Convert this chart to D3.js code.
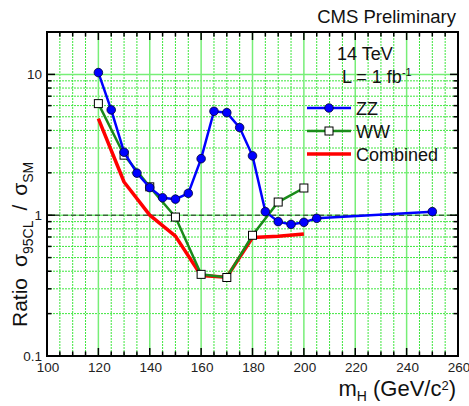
<!DOCTYPE html>
<html>
<head>
<meta charset="utf-8">
<script src="https://cdn.jsdelivr.net/npm/d3@7"></script>
<style>
  body { margin: 0; background: #fff; }
  svg { display: block; font-family: "Liberation Sans", Arial, sans-serif; }
</style>
</head>
<body>
<div id="chart"></div>
<script>
// masses and limits
const massZZ = [120, 125, 130, 135, 140, 145, 150, 155, 160, 165, 170, 175, 180, 185, 190, 195, 200, 205, 250];
const ratioZZ = [10.3, 5.6, 2.8, 1.99, 1.57, 1.33, 1.30, 1.43, 2.52, 5.47, 5.35, 4.19, 2.64, 1.06, 0.90, 0.86, 0.89, 0.95, 1.06];

const massWW = [120, 130, 140, 150, 160, 170, 180, 190, 200];
const ratioWW = [6.2, 2.67, 1.59, 0.97, 0.38, 0.361, 0.72, 1.24, 1.56];

const massComb = [120, 130, 140, 150, 160, 170, 180, 190, 200];
const ratioComb = [4.85, 1.72, 1.0, 0.71, 0.373, 0.363, 0.695, 0.71, 0.736];

const xTicks = [100, 120, 140, 160, 180, 200, 220, 240, 260];
const yTicks = [0.1, 1, 10];
const yTickLabels = ["0.1", "1", "10"];

const W = 469, H = 406;
const margin = {left: 47, right: 11, top: 32, bottom: 50};

const svg = d3.select("#chart").append("svg")
  .attr("width", W)
  .attr("height", H);

const x = d3.scaleLinear()
  .domain([100, 260])
  .range([margin.left, W - margin.right]);

const y = d3.scaleLog()
  .domain([0.1, 20])
  .range([H - margin.bottom, margin.top]);

const x0 = x.range()[0], x1 = x.range()[1];
const y0 = y.range()[0], y1 = y.range()[1];

// minor / major values
const xMinor = d3.range(100, 261, 5);
const yMinor = [];
[0.1, 1, 10].forEach(function(d) {
  for (let k = 2; k <= 9; k++) if (d * k <= 20) yMinor.push(d * k);
});

// grid
const grid = svg.append("g");
grid.selectAll(".vminor")
  .data(xMinor.filter(function(d) { return d % 20 !== 0; }))
  .enter().append("line")
    .attr("x1", x).attr("x2", x)
    .attr("y1", y1).attr("y2", y0)
    .attr("stroke", "#3ee63e")
    .attr("stroke-width", 1)
    .attr("stroke-dasharray", "2,1");
grid.selectAll(".hminor")
  .data(yMinor.filter(function(d) { return d < 20; }))
  .enter().append("line")
    .attr("x1", x0).attr("x2", x1)
    .attr("y1", y).attr("y2", y)
    .attr("stroke", "#3ee63e")
    .attr("stroke-width", 1)
    .attr("stroke-dasharray", "2,1");
grid.selectAll(".vmajor")
  .data(xTicks.slice(1, -1))
  .enter().append("line")
    .attr("x1", x).attr("x2", x)
    .attr("y1", y1).attr("y2", y0)
    .attr("stroke", "#77ee77")
    .attr("stroke-width", 1.5);
grid.selectAll(".hmajor")
  .data([1, 10])
  .enter().append("line")
    .attr("x1", x0).attr("x2", x1)
    .attr("y1", y).attr("y2", y)
    .attr("stroke", "#77ee77")
    .attr("stroke-width", 1.5);

// dashed line at ratio 1
svg.append("line")
  .attr("x1", x0).attr("x2", x1)
  .attr("y1", y(1)).attr("y2", y(1))
  .attr("stroke", "#222")
  .attr("stroke-width", 1)
  .attr("stroke-dasharray", "5,3");

// ticks
const ticks = svg.append("g").attr("stroke", "#000").attr("stroke-width", 1.5);
xMinor.forEach(function(d) {
  const len = d % 20 === 0 ? 8 : 4.5;
  ticks.append("line").attr("x1", x(d)).attr("x2", x(d)).attr("y1", y0).attr("y2", y0 - len);
  ticks.append("line").attr("x1", x(d)).attr("x2", x(d)).attr("y1", y1).attr("y2", y1 + len);
});
yMinor.concat(yTicks).forEach(function(d) {
  const len = yTicks.indexOf(d) >= 0 ? 8 : 4.5;
  ticks.append("line").attr("x1", x0).attr("x2", x0 + len).attr("y1", y(d)).attr("y2", y(d));
  ticks.append("line").attr("x1", x1).attr("x2", x1 - len).attr("y1", y(d)).attr("y2", y(d));
});

// frame
svg.append("rect")
  .attr("x", x0).attr("y", y1)
  .attr("width", x1 - x0).attr("height", y0 - y1)
  .attr("fill", "none")
  .attr("stroke", "#000")
  .attr("stroke-width", 2);

// tick labels
svg.selectAll(".xlab")
  .data(xTicks)
  .enter().append("text")
    .attr("x", function(d) { return x(d) + 1; })
    .attr("y", y0 + 16)
    .attr("text-anchor", "middle")
    .attr("font-size", 13.5)
    .attr("fill", "#222")
    .text(function(d) { return d; });

svg.selectAll(".ylab")
  .data(yTicks)
  .enter().append("text")
    .attr("x", x0 - 5)
    .attr("y", function(d) { return y(d) + 5; })
    .attr("text-anchor", "end")
    .attr("font-size", 13.5)
    .attr("fill", "#222")
    .text(function(d, i) { return yTickLabels[i]; });

// curves
const line = d3.line()
  .x(function(d) { return x(d[0]); })
  .y(function(d) { return y(d[1]); });

const comb = d3.zip(massComb, ratioComb);
const ww = d3.zip(massWW, ratioWW);
const zz = d3.zip(massZZ, ratioZZ);

svg.append("path").datum(comb)
  .attr("d", line)
  .attr("fill", "none")
  .attr("stroke", "#ff0000")
  .attr("stroke-width", 3.5)
  .attr("stroke-linejoin", "round");

svg.append("path").datum(ww)
  .attr("d", line)
  .attr("fill", "none")
  .attr("stroke", "#1a8a1a")
  .attr("stroke-width", 2.5);
svg.selectAll(".ww")
  .data(ww)
  .enter().append("rect")
    .attr("x", function(d) { return x(d[0]) - 4; })
    .attr("y", function(d) { return y(d[1]) - 4; })
    .attr("width", 8).attr("height", 8)
    .attr("fill", "#fff")
    .attr("stroke", "#000")
    .attr("stroke-width", 1);

svg.append("path").datum(zz)
  .attr("d", line)
  .attr("fill", "none")
  .attr("stroke", "#0000ff")
  .attr("stroke-width", 2.5);
svg.selectAll(".zz")
  .data(zz)
  .enter().append("circle")
    .attr("cx", function(d) { return x(d[0]); })
    .attr("cy", function(d) { return y(d[1]); })
    .attr("r", 4.3)
    .attr("fill", "#0000ff")
    .attr("stroke", "#000033")
    .attr("stroke-width", 0.8);

// legend
const legendItems = ["ZZ", "WW", "Combined"];
const legend = svg.append("g");
legendItems.forEach(function(name, i) {
  const ly = 108 + i * 23;
  const color = ["#0000ff", "#1a8a1a", "#ff0000"][i];
  legend.append("line")
    .attr("x1", 307).attr("x2", 351)
    .attr("y1", ly).attr("y2", ly)
    .attr("stroke", color)
    .attr("stroke-width", i === 2 ? 3.5 : 2.5);
  if (i === 0) {
    legend.append("circle").attr("cx", 329).attr("cy", ly).attr("r", 4.3)
      .attr("fill", "#0000ff").attr("stroke", "#000033").attr("stroke-width", 0.8);
  } else if (i === 1) {
    legend.append("rect").attr("x", 325).attr("y", ly - 4).attr("width", 8).attr("height", 8)
      .attr("fill", "#fff").attr("stroke", "#000").attr("stroke-width", 1);
  }
  legend.append("text")
    .attr("x", 356).attr("y", ly + 6.5)
    .attr("font-size", 18)
    .attr("fill", "#111")
    .text(name);
});

// annotations
svg.append("text")
  .attr("x", 456).attr("y", 23)
  .attr("text-anchor", "end")
  .attr("font-size", 18.5)
  .attr("fill", "#111")
  .text("CMS Preliminary");

svg.append("text")
  .attr("x", 337).attr("y", 60)
  .attr("font-size", 18)
  .attr("fill", "#111")
  .text("14 TeV");

const lumi = svg.append("text")
  .attr("x", 342).attr("y", 83)
  .attr("font-size", 18)
  .attr("fill", "#111");
lumi.append("tspan").text("L = 1 fb");
lumi.append("tspan").attr("dy", -7).attr("font-size", 11).text("-1");

// axis titles
const xt = svg.append("text")
  .attr("x", 456).attr("y", 396)
  .attr("text-anchor", "end")
  .attr("font-size", 22)
  .attr("fill", "#111");
xt.append("tspan").text("m");
xt.append("tspan").attr("dy", 5).attr("font-size", 14).text("H");
xt.append("tspan").attr("dy", -5).text(" (GeV/c");
xt.append("tspan").attr("dy", -6).attr("font-size", 13).text("2");
xt.append("tspan").attr("dy", 6).text(")");

const yt = svg.append("text")
  .attr("transform", "translate(27,327) rotate(-90)")
  .attr("font-size", 21)
  .attr("fill", "#111");
yt.append("tspan").text("Ratio");
yt.append("tspan").attr("dx", 11).text("\u03c3");
yt.append("tspan").attr("dy", 6).attr("font-size", 14).text("95CL");
yt.append("tspan").attr("dy", -6).attr("dx", 10).text("/");
yt.append("tspan").attr("dx", 9).text("\u03c3");
yt.append("tspan").attr("dy", 6).attr("font-size", 14).text("SM");
</script>
</body>
</html>
